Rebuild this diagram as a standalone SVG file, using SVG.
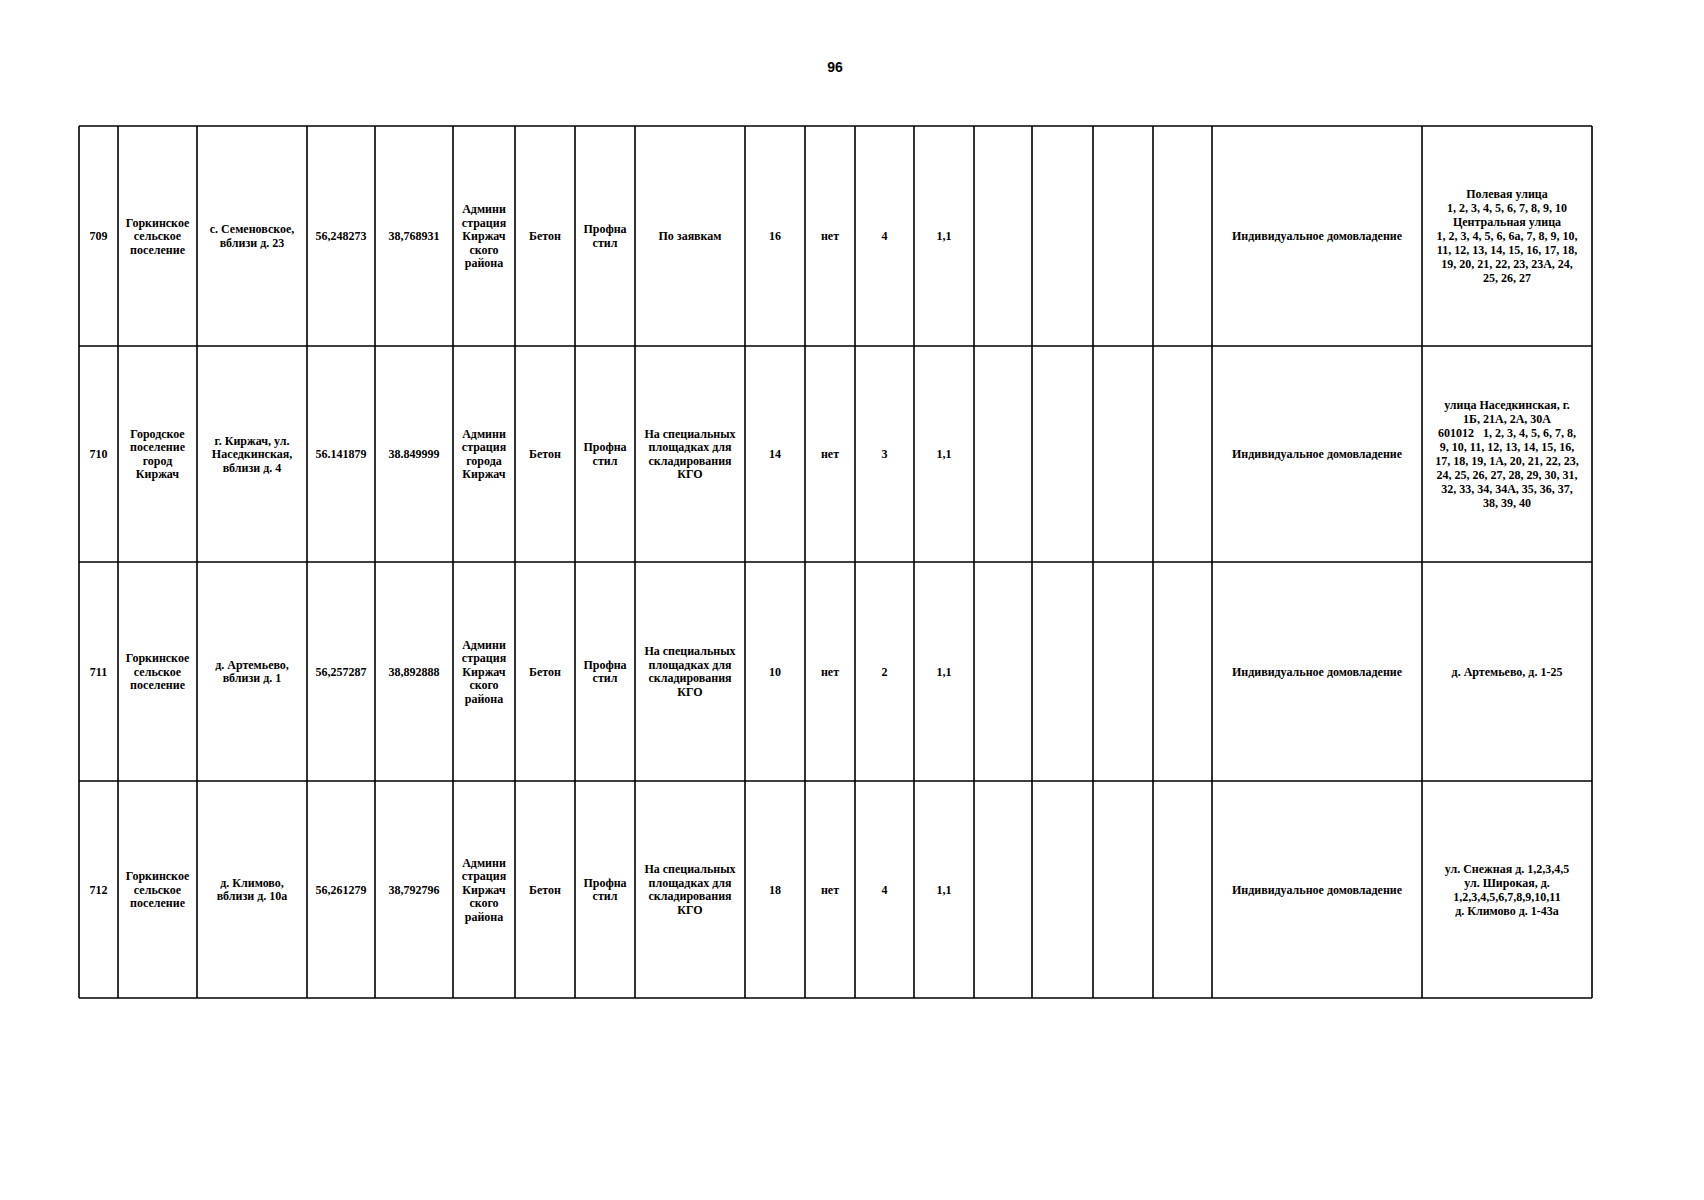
<svg xmlns="http://www.w3.org/2000/svg" width="1704" height="1200" viewBox="0 0 1704 1200">
<style>
.bg{fill:#ffffff}
.g line{stroke:#000;stroke-width:1.6}
.t{font-family:"Liberation Serif","Times New Roman",serif;font-weight:bold;font-size:12px;fill:#000;text-anchor:middle}
.pn{font-family:"Liberation Sans",Arial,sans-serif;font-weight:bold;font-size:14px;fill:#000;text-anchor:middle}
</style>
<rect class="bg" x="0" y="0" width="1704" height="1200"/>
<text class="pn" x="835" y="72">96</text>
<g id="grid" class="g">
<line x1="79" y1="126" x2="1592" y2="126"/>
<line x1="79" y1="346" x2="1592" y2="346"/>
<line x1="79" y1="562" x2="1592" y2="562"/>
<line x1="79" y1="781" x2="1592" y2="781"/>
<line x1="79" y1="998" x2="1592" y2="998"/>
<line x1="79" y1="126" x2="79" y2="998"/>
<line x1="118" y1="126" x2="118" y2="998"/>
<line x1="197" y1="126" x2="197" y2="998"/>
<line x1="307" y1="126" x2="307" y2="998"/>
<line x1="375" y1="126" x2="375" y2="998"/>
<line x1="453" y1="126" x2="453" y2="998"/>
<line x1="515" y1="126" x2="515" y2="998"/>
<line x1="575" y1="126" x2="575" y2="998"/>
<line x1="635" y1="126" x2="635" y2="998"/>
<line x1="745" y1="126" x2="745" y2="998"/>
<line x1="805" y1="126" x2="805" y2="998"/>
<line x1="855" y1="126" x2="855" y2="998"/>
<line x1="914" y1="126" x2="914" y2="998"/>
<line x1="974" y1="126" x2="974" y2="998"/>
<line x1="1032" y1="126" x2="1032" y2="998"/>
<line x1="1093" y1="126" x2="1093" y2="998"/>
<line x1="1153" y1="126" x2="1153" y2="998"/>
<line x1="1212" y1="126" x2="1212" y2="998"/>
<line x1="1422" y1="126" x2="1422" y2="998"/>
<line x1="1592" y1="126" x2="1592" y2="998"/>
</g>
<g id="row709">
<text class="t" x="98.5" y="240">709</text>
<text class="t" x="157.5" y="226.5"><tspan x="157.5">Горкинское</tspan><tspan x="157.5" dy="13.5">сельское</tspan><tspan x="157.5" dy="13.5">поселение</tspan></text>
<text class="t" x="252" y="233.25"><tspan x="252">с. Семеновское,</tspan><tspan x="252" dy="13.5">вблизи д. 23</tspan></text>
<text class="t" x="341" y="240">56,248273</text>
<text class="t" x="414" y="240">38,768931</text>
<text class="t" x="484" y="213"><tspan x="484">Админи</tspan><tspan x="484" dy="13.5">страция</tspan><tspan x="484" dy="13.5">Киржач</tspan><tspan x="484" dy="13.5">ского</tspan><tspan x="484" dy="13.5">района</tspan></text>
<text class="t" x="545" y="240">Бетон</text>
<text class="t" x="605" y="233.25"><tspan x="605">Профна</tspan><tspan x="605" dy="13.5">стил</tspan></text>
<text class="t" x="690" y="240">По заявкам</text>
<text class="t" x="775" y="240">16</text>
<text class="t" x="830" y="240">нет</text>
<text class="t" x="884.5" y="240">4</text>
<text class="t" x="944" y="240">1,1</text>
<text class="t" x="1317" y="240">Индивидуальное домовладение</text>
<text class="t" x="1507" y="198"><tspan x="1507">Полевая улица</tspan><tspan x="1507" dy="14">1, 2, 3, 4, 5, 6, 7, 8, 9, 10</tspan><tspan x="1507" dy="14">Центральная улица</tspan><tspan x="1507" dy="14">1, 2, 3, 4, 5, 6, 6а, 7, 8, 9, 10,</tspan><tspan x="1507" dy="14">11, 12, 13, 14, 15, 16, 17, 18,</tspan><tspan x="1507" dy="14">19, 20, 21, 22, 23, 23А, 24,</tspan><tspan x="1507" dy="14">25, 26, 27</tspan></text>
</g>
<g id="row710">
<text class="t" x="98.5" y="458">710</text>
<text class="t" x="157.5" y="437.75"><tspan x="157.5">Городское</tspan><tspan x="157.5" dy="13.5">поселение</tspan><tspan x="157.5" dy="13.5">город</tspan><tspan x="157.5" dy="13.5">Киржач</tspan></text>
<text class="t" x="252" y="444.5"><tspan x="252">г. Киржач, ул.</tspan><tspan x="252" dy="13.5">Наседкинская,</tspan><tspan x="252" dy="13.5">вблизи д. 4</tspan></text>
<text class="t" x="341" y="458">56.141879</text>
<text class="t" x="414" y="458">38.849999</text>
<text class="t" x="484" y="437.75"><tspan x="484">Админи</tspan><tspan x="484" dy="13.5">страция</tspan><tspan x="484" dy="13.5">города</tspan><tspan x="484" dy="13.5">Киржач</tspan></text>
<text class="t" x="545" y="458">Бетон</text>
<text class="t" x="605" y="451.25"><tspan x="605">Профна</tspan><tspan x="605" dy="13.5">стил</tspan></text>
<text class="t" x="690" y="437.75"><tspan x="690">На специальных</tspan><tspan x="690" dy="13.5">площадках для</tspan><tspan x="690" dy="13.5">складирования</tspan><tspan x="690" dy="13.5">КГО</tspan></text>
<text class="t" x="775" y="458">14</text>
<text class="t" x="830" y="458">нет</text>
<text class="t" x="884.5" y="458">3</text>
<text class="t" x="944" y="458">1,1</text>
<text class="t" x="1317" y="458">Индивидуальное домовладение</text>
<text class="t" x="1507" y="409"><tspan x="1507">улица Наседкинская, г.</tspan><tspan x="1507" dy="14">1Б, 21А, 2А, 30А</tspan><tspan x="1507" dy="14" xml:space="preserve">601012   1, 2, 3, 4, 5, 6, 7, 8,</tspan><tspan x="1507" dy="14">9, 10, 11, 12, 13, 14, 15, 16,</tspan><tspan x="1507" dy="14">17, 18, 19, 1А, 20, 21, 22, 23,</tspan><tspan x="1507" dy="14">24, 25, 26, 27, 28, 29, 30, 31,</tspan><tspan x="1507" dy="14">32, 33, 34, 34А, 35, 36, 37,</tspan><tspan x="1507" dy="14">38, 39, 40</tspan></text>
</g>
<g id="row711">
<text class="t" x="98.5" y="675.5">711</text>
<text class="t" x="157.5" y="662"><tspan x="157.5">Горкинское</tspan><tspan x="157.5" dy="13.5">сельское</tspan><tspan x="157.5" dy="13.5">поселение</tspan></text>
<text class="t" x="252" y="668.75"><tspan x="252">д. Артемьево,</tspan><tspan x="252" dy="13.5">вблизи д. 1</tspan></text>
<text class="t" x="341" y="675.5">56,257287</text>
<text class="t" x="414" y="675.5">38,892888</text>
<text class="t" x="484" y="648.5"><tspan x="484">Админи</tspan><tspan x="484" dy="13.5">страция</tspan><tspan x="484" dy="13.5">Киржач</tspan><tspan x="484" dy="13.5">ского</tspan><tspan x="484" dy="13.5">района</tspan></text>
<text class="t" x="545" y="675.5">Бетон</text>
<text class="t" x="605" y="668.75"><tspan x="605">Профна</tspan><tspan x="605" dy="13.5">стил</tspan></text>
<text class="t" x="690" y="655.25"><tspan x="690">На специальных</tspan><tspan x="690" dy="13.5">площадках для</tspan><tspan x="690" dy="13.5">складирования</tspan><tspan x="690" dy="13.5">КГО</tspan></text>
<text class="t" x="775" y="675.5">10</text>
<text class="t" x="830" y="675.5">нет</text>
<text class="t" x="884.5" y="675.5">2</text>
<text class="t" x="944" y="675.5">1,1</text>
<text class="t" x="1317" y="675.5">Индивидуальное домовладение</text>
<text class="t" x="1507" y="675.5">д. Артемьево, д. 1-25</text>
</g>
<g id="row712">
<text class="t" x="98.5" y="893.5">712</text>
<text class="t" x="157.5" y="880"><tspan x="157.5">Горкинское</tspan><tspan x="157.5" dy="13.5">сельское</tspan><tspan x="157.5" dy="13.5">поселение</tspan></text>
<text class="t" x="252" y="886.75"><tspan x="252">д. Климово,</tspan><tspan x="252" dy="13.5">вблизи д. 10а</tspan></text>
<text class="t" x="341" y="893.5">56,261279</text>
<text class="t" x="414" y="893.5">38,792796</text>
<text class="t" x="484" y="866.5"><tspan x="484">Админи</tspan><tspan x="484" dy="13.5">страция</tspan><tspan x="484" dy="13.5">Киржач</tspan><tspan x="484" dy="13.5">ского</tspan><tspan x="484" dy="13.5">района</tspan></text>
<text class="t" x="545" y="893.5">Бетон</text>
<text class="t" x="605" y="886.75"><tspan x="605">Профна</tspan><tspan x="605" dy="13.5">стил</tspan></text>
<text class="t" x="690" y="873.25"><tspan x="690">На специальных</tspan><tspan x="690" dy="13.5">площадках для</tspan><tspan x="690" dy="13.5">складирования</tspan><tspan x="690" dy="13.5">КГО</tspan></text>
<text class="t" x="775" y="893.5">18</text>
<text class="t" x="830" y="893.5">нет</text>
<text class="t" x="884.5" y="893.5">4</text>
<text class="t" x="944" y="893.5">1,1</text>
<text class="t" x="1317" y="893.5">Индивидуальное домовладение</text>
<text class="t" x="1507" y="872.5"><tspan x="1507">ул. Снежная д. 1,2,3,4,5</tspan><tspan x="1507" dy="14">ул. Широкая, д.</tspan><tspan x="1507" dy="14">1,2,3,4,5,6,7,8,9,10,11</tspan><tspan x="1507" dy="14">д. Климово д. 1-43а</tspan></text>
</g>
</svg>
